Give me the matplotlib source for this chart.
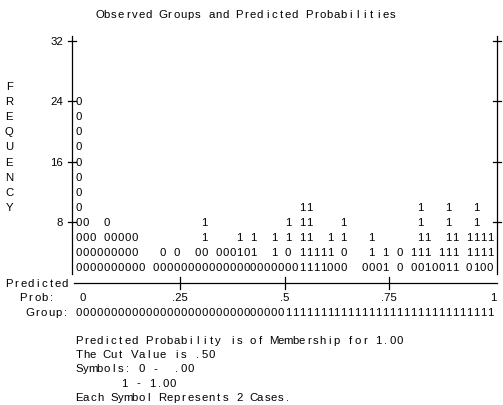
import matplotlib
matplotlib.use("Agg")
import matplotlib.pyplot as plt
from matplotlib.lines import Line2D

# ---------------- data ----------------
title = "Observed Groups and Predicted Probabilities"
ylabel = "FREQUENCY"
freq_ticks = [32, 24, 16, 8]
n_bins = 60                      # predicted-probability bins (one character each)
prob_ticks = [0, 0.25, 0.5, 0.75, 1]
prob_labels = ["0", ".25", ".5", ".75", "1"]
cut_value = 0.5

# observed-group symbols per frequency level: (first bin, symbols)
row_24 = [(0, "0")]
row_22 = [(0, "0")]
row_20 = [(0, "0")]
row_18 = [(0, "0")]
row_16 = [(0, "0")]
row_14 = [(0, "0")]
row_12 = [(0, "0")]
row_10 = [(0, "0"), (32, "11"), (49, "1"), (53, "1"), (57, "1")]
row_8 = [(0, "00"), (4, "0"), (18, "1"), (30, "1"), (32, "11"), (38, "1"),
         (49, "1"), (53, "1"), (57, "1")]
row_6 = [(0, "000"), (4, "00000"), (18, "1"), (23, "1"), (25, "1"), (28, "1"),
         (30, "1"), (32, "11"), (36, "1"), (38, "1"), (42, "1"), (49, "11"),
         (53, "11"), (56, "1111")]
row_4 = [(0, "000000000"), (12, "0"), (14, "0"), (17, "00"), (20, "000101"),
         (28, "1"), (30, "0"), (32, "11111"), (38, "0"), (42, "1"), (44, "1"),
         (46, "0"), (48, "111"), (52, "111"), (56, "1111")]
row_2 = [(0, "0000000000"), (11, "000000000000000000000"), (32, "1111"),
         (36, "000"), (41, "0001"), (46, "0"), (48, "0010011"), (56, "0100")]
rows = {24: row_24, 22: row_22, 20: row_20, 18: row_18, 16: row_16, 14: row_14,
        12: row_12, 10: row_10, 8: row_8, 6: row_6, 4: row_4, 2: row_2}

# note lines: (text, starting character column)
notes = [("Predicted Probability is of Membership for 1.00", 0),
         ("The Cut Value is .50", 0),
         ("Symbols: 0 -  .00", 0),
         ("1 - 1.00", 6.5),
         ("Each Symbol Represents 2 Cases.", 0)]

# ---------------- layout ----------------
W, H = 503, 406
fig = plt.figure(figsize=(W / 100, H / 100), dpi=100)
fig.patch.set_facecolor("white")

CW = 6.967                 # character cell width (px)
X0 = 79.0                  # centre of bin 0 (px)
FONT = dict(family=["Liberation Sans", "DejaVu Sans"], fontsize=8.2, color="black")


def fx(x):
    return x / W


def fy(y):
    return 1 - y / H


def col_x(c):
    return X0 + c * CW


def put_chars(s, c0, y):
    for i, ch in enumerate(s):
        if ch != " ":
            fig.text(fx(col_x(c0 + i)), fy(y), ch, ha="center", va="center", **FONT)


# axes: x = predicted probability, y = frequency
left_px = X0 - CW / 2
right_px = left_px + n_bins * CW
top_px, bot_px = 42.0, 268.0
ax = fig.add_axes([fx(left_px), fy(bot_px), (right_px - left_px) / W, (bot_px - top_px) / H])
ax.set_xlim(0, 1)
ax.set_ylim(2, 32)
ax.axis("off")

for freq, segs in rows.items():
    for start, syms in segs:
        for k, ch in enumerate(syms):
            ax.text((start + k + 0.5) / n_bins, freq, ch, ha="center", va="center",
                    clip_on=False, **FONT)

# title
put_chars(title, 3, 15)

# frame lines
row_h = (bot_px - top_px) / 15
LX, RX = 72.0, 497.0
for x in (LX, RX):
    fig.add_artist(Line2D([fx(x), fx(x)], [fy(top_px - 5), fy(bot_px + 7)], color="black", lw=0.9))
for f in freq_ticks:
    y = top_px + (32 - f) / 2 * row_h
    for x in (LX, RX):
        fig.add_artist(Line2D([fx(x - 4), fx(x + 4)], [fy(y), fy(y)], color="black", lw=0.9))
    fig.text(fx(63), fy(y), str(f), ha="right", va="center", **FONT)

for i, ch in enumerate(ylabel):
    fig.text(fx(col_x(-10)), fy(top_px + (3 + i) * row_h), ch, ha="center", va="center", **FONT)

# predicted probability axis
py = 284
fig.add_artist(Line2D([fx(74), fx(497)], [fy(py), fy(py)], color="black", lw=0.9))
for p in prob_ticks[1:-1]:
    x = left_px + p * (right_px - left_px)
    fig.add_artist(Line2D([fx(x), fx(x)], [fy(py - 6), fy(py + 6)], color="black", lw=0.9))
put_chars("Predicted", -10, py)
put_chars("Prob:", -8, 298)
for p, lab in zip(prob_ticks, prob_labels):
    x = left_px + p * (right_px - left_px)
    if p == 0:
        x += 7
    fig.text(fx(x), fy(298), lab, ha="center", va="center", **FONT)
put_chars("Group:", -7, 313)
group = "".join("1" if (i + 0.5) / n_bins > cut_value else "0" for i in range(n_bins))
put_chars(group, 0, 313)

for j, (line, c0) in enumerate(notes):
    put_chars(line, c0, 341 + j * 14.2)

fig.savefig("out.png", dpi=100, facecolor="white")
